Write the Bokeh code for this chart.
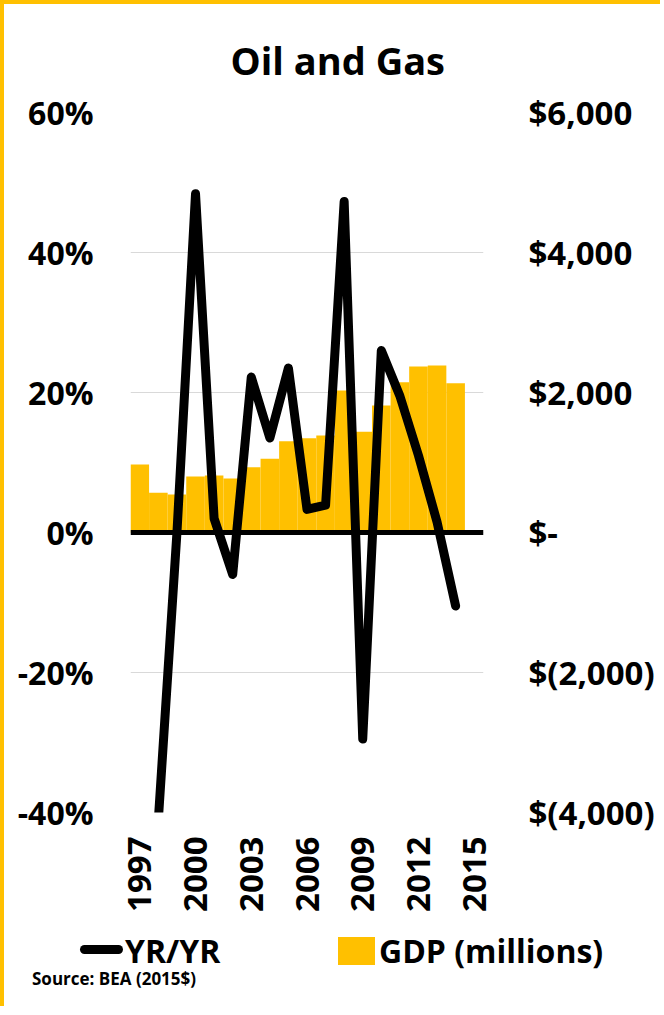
import math
import numpy as np
from bokeh.plotting import figure
from bokeh.layouts import column
from bokeh.models import (Range1d, LinearAxis, FixedTicker, NumeralTickFormatter, Span,
                          ColumnDataSource, Grid, Div)
from bokeh.embed import file_html
from bokeh.resources import INLINE

# ---- data ----
years = list(range(1997, 2016))
yoy_pct = [np.nan, -41.0, 0.0, 48.4, 2.0, -6.0, 22.2, 13.5, 23.5, 3.3, 3.9, 47.3,
           -29.5, 26.0, 19.5, 11.0, 1.5, -10.5, np.nan]
gdp_millions = [970, 567, 543, 800, 814, 771, 933, 1052, 1305, 1348, 1386, 2030,
                1440, 1814, 2148, 2371, 2386, 2133, np.nan]
x_tick_years = [1997, 2000, 2003, 2006, 2009, 2012, 2015]
left_ticks = [-0.4, -0.2, 0.0, 0.2, 0.4, 0.6]
right_ticks = [-4000, -2000, 0, 2000, 4000, 6000]
right_tick_labels = ["$(4,000)", "$(2,000)", "$-", "$2,000", "$4,000", "$6,000"]
title_text = "Oil and Gas"
source_text = "Source: BEA (2015$)"
series_names = ["YR/YR", "GDP (millions)"]

FONT = "Open Sans"
YELLOW = "#FFC000"

src = ColumnDataSource(dict(year=years, yoy=[v / 100.0 for v in yoy_pct], gdp=gdp_millions))

p = figure(width=660, height=914,
           x_range=Range1d(1996.5, 2015.5), y_range=Range1d(-0.4, 0.6),
           x_axis_type=None, y_axis_type=None,
           output_backend="svg", toolbar_location=None,
           min_border_left=126, min_border_right=181, min_border_top=106, min_border_bottom=106)
p.outline_line_color = None
p.background_fill_color = "white"
p.border_fill_color = "white"
p.extra_y_ranges = {"gdp": Range1d(-4000, 6000)}
p.styles = {"border-left": "4px solid " + YELLOW, "border-top": "4px solid " + YELLOW}

p.title.text = title_text
p.title.align = "left"
p.title.offset = 100
p.title.standoff = 54
p.title.text_font = FONT
p.title.text_font_style = "bold"
p.title.text_font_size = "38px"
p.title.text_color = "black"

# grid
p.add_layout(Grid(dimension=1, ticker=FixedTicker(ticks=left_ticks),
                  grid_line_color="#d9d9d9", grid_line_width=1))

def style_axis(ax, standoff, size):
    ax.axis_line_color = None
    ax.major_tick_line_color = None
    ax.minor_tick_line_color = None
    ax.major_tick_out = 0
    ax.major_tick_in = 0
    ax.major_label_standoff = standoff
    ax.major_label_text_font = FONT
    ax.major_label_text_font_style = "bold"
    ax.major_label_text_font_size = size
    ax.major_label_text_color = "black"

yl = LinearAxis(ticker=FixedTicker(ticks=left_ticks), formatter=NumeralTickFormatter(format="0%"))
style_axis(yl, 37, "32px")
p.add_layout(yl, "left")

yr = LinearAxis(y_range_name="gdp", ticker=FixedTicker(ticks=right_ticks))
yr.major_label_overrides = {t: lab for t, lab in zip(right_ticks, right_tick_labels)}
style_axis(yr, 45, "33px")
p.add_layout(yr, "right")

xa = LinearAxis(ticker=FixedTicker(ticks=x_tick_years))
style_axis(xa, 24, "33px")
xa.major_label_orientation = math.pi / 2
p.add_layout(xa, "below")

bars = p.vbar(x="year", top="gdp", bottom=0, width=1.0, source=src, y_range_name="gdp",
              fill_color=YELLOW, line_color=None)
p.add_layout(Span(location=0, dimension="width", line_color="black", line_width=5))
line = p.line(x="year", y="yoy", source=src, line_color="black", line_width=9,
              line_join="round", line_cap="round")

# ---- legend + source strip (HTML) ----
txt = "position:absolute;font-family:'Open Sans';font-weight:bold;color:black;white-space:nowrap;"
html = (
    '<div style="position:relative;width:660px;height:92px;">'
    '<div style="position:absolute;left:76px;top:31px;width:43px;height:9px;'
    'background:black;border-radius:4.5px;"></div>'
    f'<div style="{txt}left:121px;top:21px;font-size:32px;line-height:32px;">{series_names[0]}</div>'
    f'<div style="position:absolute;left:334px;top:23px;width:37px;height:28px;background:{YELLOW};"></div>'
    f'<div style="{txt}left:375px;top:21px;font-size:32px;line-height:32px;">{series_names[1]}</div>'
    f'<div style="{txt}left:28px;top:55px;font-size:17px;line-height:20px;">{source_text}</div>'
    '</div>'
)
strip = Div(text=html, width=660, height=92, margin=0,
            styles={"border-left": "4px solid " + YELLOW})

layout = column(p, strip, spacing=0)
open("out.html", "w").write(file_html(layout, INLINE))
